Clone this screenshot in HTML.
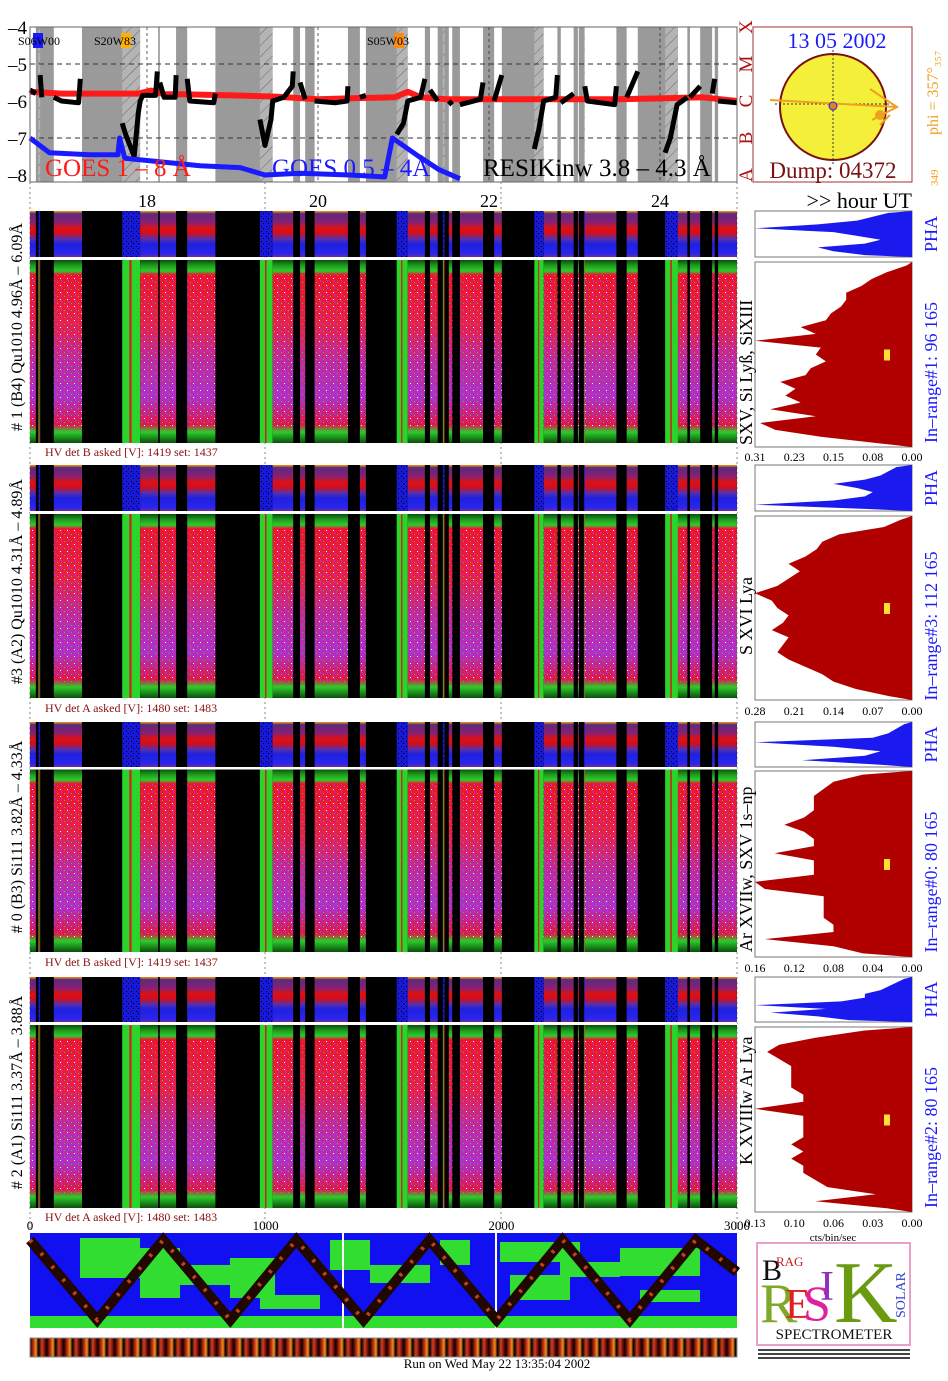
<!DOCTYPE html>
<html><head><meta charset="utf-8">
<style>
html,body{margin:0;padding:0;background:#fff;}
svg{display:block;font-family:"Liberation Serif",serif;}
</style></head>
<body>
<svg id="root" width="948" height="1381" viewBox="0 0 948 1381" xmlns="http://www.w3.org/2000/svg">
<defs>
<linearGradient id="gMain" x1="0" y1="0" x2="0" y2="1">
<stop offset="0" stop-color="#0b4f0b"/><stop offset="0.03" stop-color="#1f9a1f"/><stop offset="0.06" stop-color="#2ccc2c"/>
<stop offset="0.08" stop-color="#ee1430"/><stop offset="0.35" stop-color="#e8204a"/><stop offset="0.55" stop-color="#c02aa0"/>
<stop offset="0.75" stop-color="#b030c8"/><stop offset="0.9" stop-color="#e0184a"/><stop offset="0.94" stop-color="#2ccc2c"/><stop offset="1" stop-color="#0b4f0b"/>
</linearGradient>
<linearGradient id="gPha" x1="0" y1="0" x2="0" y2="1">
<stop offset="0" stop-color="#ff9a00"/><stop offset="0.06" stop-color="#5a2a80"/><stop offset="0.25" stop-color="#8a2070"/>
<stop offset="0.38" stop-color="#e01010"/><stop offset="0.5" stop-color="#c81028"/><stop offset="0.6" stop-color="#5a30a8"/>
<stop offset="0.72" stop-color="#2020e0"/><stop offset="0.92" stop-color="#2626ee"/><stop offset="1" stop-color="#702aa0"/>
</linearGradient>
<pattern id="noise" width="7" height="7" patternUnits="userSpaceOnUse">
<rect x="1" y="2" width="1" height="1" fill="#22dd22"/><rect x="4" y="5" width="1" height="1" fill="#ffffff"/>
<rect x="5" y="0" width="1" height="2" fill="#9040ff"/><rect x="2" y="5" width="1" height="1" fill="#ff2020"/>
</pattern>
<pattern id="dots" width="5" height="5" patternUnits="userSpaceOnUse">
<rect width="5" height="5" fill="#1818d8"/><rect x="1" y="1" width="1" height="1" fill="#000"/><rect x="3" y="3" width="1" height="1" fill="#000"/>
</pattern>
<pattern id="hatch" width="8" height="8" patternUnits="userSpaceOnUse" patternTransform="rotate(45)">
<rect width="8" height="8" fill="#b4b4b4"/><line x1="0" y1="0" x2="0" y2="8" stroke="#555" stroke-width="0.8"/>
</pattern>
<linearGradient id="gStrip" gradientUnits="userSpaceOnUse" x1="30" y1="0" x2="47" y2="0" spreadMethod="repeat">
<stop offset="0" stop-color="#200000"/><stop offset="0.2" stop-color="#c03010"/><stop offset="0.35" stop-color="#f09020"/>
<stop offset="0.5" stop-color="#000"/><stop offset="0.7" stop-color="#d04020"/><stop offset="0.85" stop-color="#801010"/><stop offset="1" stop-color="#000"/>
</linearGradient>
</defs>
<g id="layer"></g>
</svg>
<script>
// ---------- DATA ----------
const segStart=[16.63,16.73,16.91,17.71,17.92,18.15,18.47,19.32,19.47,19.79,19.96,20.49,20.92,21.05,21.31,21.46,21.53,21.66,22.06,22.53,22.64,22.84,23.04,23.11,23.12,23.61,24.06,24.21,24.35,24.61,24.68];
const segEnd  =[16.70,16.75,17.24,17.92,18.13,18.34,18.80,19.47,19.71,19.85,20.35,20.56,21.05,21.25,21.40,21.48,21.57,21.93,22.15,22.64,22.80,22.99,23.05,23.12,23.49,23.74,24.21,24.32,24.47,24.64,24.90];
const segType =['d','g','d','g','d','d','d','g','d','d','d','d','g','d','d','g','d','d','d','g','d','d','d','g','d','d','g','d','d','d','d'];
const hourTicks=[18,20,22,24];
const goesYTicks=[-4,-5,-6,-7,-8];
const goesLongT=[16.63,17.0,17.5,17.9,18.05,18.2,18.4,19.0,19.5,20.0,20.5,20.9,21.05,21.2,21.5,22,22.5,23,23.5,24,24.5,24.9];
const goesLongV=[-5.75,-5.8,-5.8,-5.8,-5.72,-5.82,-5.82,-5.85,-5.88,-5.95,-5.92,-5.9,-5.75,-5.9,-5.95,-5.95,-5.95,-5.95,-5.95,-5.93,-5.9,-6.0];
const goesShortT=[16.63,16.86,17.33,17.66,17.68,17.74,18.62,19.09,19.38,19.79,20.37,20.78,20.87,21.18,21.41,21.66];
const goesShortV=[-7.0,-7.4,-7.45,-7.45,-7.0,-7.55,-7.75,-7.8,-8.0,-7.95,-8.0,-8.05,-7.0,-7.5,-7.85,-8.1];
const resikT=[16.63,16.70,null,16.75,16.77,null,16.91,17.0,17.2,17.22,null,17.71,17.75,17.8,17.85,17.9,17.92,17.95,18.1,18.12,null,18.15,18.2,18.33,18.34,null,18.47,18.5,18.78,18.8,null,19.32,19.38,19.45,19.47,19.6,19.7,19.71,null,19.79,19.85,null,19.96,20.2,20.34,20.35,null,20.49,20.56,null,20.92,21.0,21.05,21.2,21.25,null,21.31,21.4,null,21.53,21.57,null,21.66,21.9,21.93,null,22.06,22.15,null,22.53,22.58,22.64,22.78,22.80,null,22.84,22.99,null,23.12,23.15,23.47,23.49,null,23.61,23.74,null,24.06,24.12,24.2,24.32,null,24.35,24.47,null,24.61,24.64,null,24.68,24.9];
const resikV=[-5.7,-5.8,null,-5.3,-5.9,null,-5.9,-6.0,-6.05,-5.4,null,-6.6,-6.9,-7.2,-7.5,-6.3,-6.0,-5.85,-5.85,-5.2,null,-5.5,-5.9,-5.9,-5.3,null,-5.4,-6.0,-6.05,-5.8,null,-6.5,-7.2,-6.5,-6.0,-5.9,-5.6,-5.2,null,-5.5,-5.95,null,-6.0,-6.05,-6.0,-5.6,null,-5.9,-5.85,null,-6.9,-6.6,-6.0,-5.9,-5.4,null,-5.7,-6.0,null,-6.0,-6.1,null,-6.1,-5.95,-5.5,null,-6.0,-5.3,null,-7.3,-6.8,-6.0,-5.9,-5.3,null,-6.05,-5.8,null,-5.6,-6.0,-6.1,-5.6,null,-5.9,-5.2,null,-7.4,-7.0,-6.1,-5.9,null,-5.9,-5.6,null,-5.8,-5.4,null,-6.0,-6.05];
const histMax=[0.31,0.28,0.16,0.13];
const histTicks1=['0.31','0.23','0.15','0.08','0.00'];
const histTicks2=['0.28','0.21','0.14','0.07','0.00'];
const histTicks3=['0.16','0.12','0.08','0.04','0.00'];
const histTicks4=['0.13','0.10','0.06','0.03','0.00'];
const hist1=[0.01,0.05,0.08,0.10,0.13,0.13,0.14,0.16,0.17,0.22,0.19,0.31,0.18,0.19,0.17,0.20,0.21,0.26,0.23,0.25,0.22,0.28,0.19,0.30,0.27,0.18,0.06];
const hist2=[0.02,0.05,0.13,0.16,0.17,0.19,0.22,0.20,0.22,0.24,0.28,0.25,0.24,0.22,0.23,0.25,0.22,0.23,0.24,0.22,0.19,0.16,0.14,0.10,0.04];
const hist3=[0.05,0.08,0.09,0.10,0.10,0.10,0.11,0.13,0.11,0.10,0.10,0.14,0.10,0.10,0.10,0.16,0.15,0.09,0.09,0.09,0.09,0.08,0.08,0.15,0.08,0.05];
const hist4=[0.04,0.08,0.11,0.12,0.11,0.10,0.10,0.10,0.10,0.09,0.09,0.13,0.09,0.09,0.09,0.09,0.10,0.09,0.10,0.09,0.09,0.08,0.07,0.03,0.08,0.02];
const pha1=[0.15,0.25,0.35,0.6,1.0,0.5,0.35,0.2,0.3,0.6,0.5,0.3];
const pha2=[0.1,0.15,0.2,0.3,0.5,0.35,0.25,0.3,0.5,1.0,0.3];
const pha3=[0.05,0.1,0.15,0.25,1.0,0.5,0.2,0.3,0.7,0.2];
const pha4=[0.05,0.1,0.15,0.2,0.3,0.3,0.45,1.0,0.55,0.9,0.6,0.4];
const chanTicks=[0,1000,2000,3000];
const zigC=[0,285,565,850,1130,1415,1695,1980,2260,2545,2825,3000];
const zigF=[1,0,1,0,1,0,1,0,1,0,1,0.6];

// ---------- HELPERS ----------
const NS='http://www.w3.org/2000/svg';
const L=document.getElementById('layer');
function mk(tag,attrs,parent){const e=document.createElementNS(NS,tag);for(const k in attrs)e.setAttribute(k,attrs[k]);(parent||L).appendChild(e);return e;}
function txt(s,attrs,parent){const e=mk('text',attrs,parent);e.textContent=s;return e;}
const X=h=>147+(h-18)*85.5;
const GY=v=>27+(-4-v)*37;
const X0=30,X1=737;

// ---------- GOES PANEL ----------
const goes=mk('g',{});


mk('rect',{x:X0,y:27,width:X1-X0,height:155,fill:'#9a9a9a'},goes);
for(let i=0;i<segStart.length;i++){
  const r=mk('rect',{x:X(segStart[i]),y:27,width:X(segEnd[i])-X(segStart[i]),height:155,fill:segType[i]==='d'?'#ffffff':'url(#hatch)'},goes);
  
  
}
[-5,-7].forEach(v=>mk('line',{x1:X0,x2:X1,y1:GY(v),y2:GY(v),stroke:'#333','stroke-dasharray':'5,4','stroke-width':1},goes));
hourTicks.forEach(h=>mk('line',{x1:X(h),x2:X(h),y1:27,y2:182,stroke:'#333','stroke-dasharray':'3,3','stroke-width':0.8},goes));
function poly(T,V,col,w,name){
  let d='',pen=false;
  for(let i=0;i<T.length;i++){ if(T[i]===null){pen=false;continue;} d+=(pen?'L':'M')+X(T[i]).toFixed(1)+' '+GY(V[i]).toFixed(1)+' '; pen=true;}
  const p=mk('path',{d:d,fill:'none',stroke:col,'stroke-width':w,'stroke-linejoin':'round'},goes);
  
  
}
poly(goesLongT,goesLongV,'#ff1a1a',6,'goes-long-line');
poly(resikT,resikV,'#000',5,'resik-line');
poly(goesShortT,goesShortV,'#1a1aff',5,'goes-short-line');
mk('rect',{x:X0,y:27,width:X1-X0,height:155,fill:'none',stroke:'#666','stroke-width':1},goes);
goesYTicks.forEach(v=>{const t=txt('–'+Math.abs(v),{x:27,y:GY(v)+7,'font-size':19,'text-anchor':'end',fill:'#000'});});
['X','M','C','B','A'].forEach((c,i)=>{const t=txt(c,{x:0,y:0,'font-size':19,fill:'#b01010',transform:`translate(752,${GY(-4-i)}) rotate(-90)`,'text-anchor':'middle'});});
let t;
t=txt('GOES 1 – 8 Å',{x:45,y:176,'font-size':25,fill:'#ff1a1a'});
t=txt('GOES 0.5 – 4Å',{x:272,y:176,'font-size':25,fill:'#1a1aff'});
t=txt('RESIKinw 3.8 – 4.3 Å',{x:483,y:176,'font-size':25,fill:'#000'});
[[30,'S06W00','#1a1aff'],[118,'S20W83','#ffb000'],[391,'S05W03','#ff8a10']].forEach(a=>{
  mk('rect',{x:a[0]+3,y:33,width:10,height:15,fill:a[2]});
  const tt=txt(a[1],{x:a[0]-12+(a[0]===30?0:-12),y:45,'font-size':12,fill:'#000'});
  
});

// ---------- SUN PANEL ----------
const sun=mk('g',{});


mk('rect',{x:753,y:27,width:159,height:155,fill:'#fff',stroke:'#a03030','stroke-width':1},sun);
mk('circle',{cx:833,cy:107,r:53,fill:'#f4f03a',stroke:'#7a1010','stroke-width':2},sun);
mk('line',{x1:833,x2:833,y1:50,y2:165,stroke:'#333','stroke-dasharray':'2,2'},sun);
mk('line',{x1:775,x2:893,y1:104,y2:104,stroke:'#333','stroke-dasharray':'2,2'},sun);
mk('line',{x1:770,y1:100,x2:897,y2:107,stroke:'#f0a020','stroke-width':2},sun);
mk('path',{d:'M870 89 L897 107 L872 120 M880 125 L890 115',stroke:'#f0a020','stroke-width':2,fill:'none'},sun);
mk('circle',{cx:880,cy:115,r:5,fill:'#f0a020'},sun);
mk('circle',{cx:833,cy:106,r:4,fill:'#e08020',stroke:'#1a1aff'},sun);
t=txt('13 05 2002',{x:837,y:48,'font-size':22,'text-anchor':'middle',fill:'#1a1aff'},sun);
t=txt('Dump: 04372',{x:833,y:178,'font-size':23,'text-anchor':'middle',fill:'#7a1010'},sun);
t=txt('phi = 357°₃₅₇',{x:0,y:0,'font-size':16,fill:'#f0a020',transform:'translate(938,135) rotate(-90)'});
t=txt('349',{x:0,y:0,'font-size':11,fill:'#f0a020',transform:'translate(938,186) rotate(-90)'});

// ---------- HOUR AXIS ----------
hourTicks.forEach(h=>{const tt=txt(String(h),{x:X(h),y:207,'font-size':18,'text-anchor':'middle'});});
[30,265,501,737].forEach(x=>mk('line',{x1:x,x2:x,y1:182,y2:1230,stroke:'#555','stroke-dasharray':'2,3','stroke-width':0.7}));
t=txt('>> hour UT',{x:912,y:208,'font-size':22,'text-anchor':'end'});

// ---------- DETECTOR BLOCKS ----------
const blocks=[
 {pha:211,phaH:46,main:260,mainH:183,hb:447,hv:456,ax:461,hist:hist1,ph:pha1,ticks:histTicks1,max:histMax[0],
  left:'# 1 (B4) Qu1010 4.96Å – 6.09Å',line:'SXV, Si Lyß, SiXIII',lineY:445,range:'In–range#1:  96 165',hvt:'HV det B asked [V]:  1419 set:  1437'},
 {pha:465,phaH:46,main:514,mainH:184,hb:700,hv:712,ax:715,hist:hist2,ph:pha2,ticks:histTicks2,max:histMax[1],
  left:'#3 (A2) Qu1010  4.31Å – 4.89Å',line:'S XVI Lya',lineY:655,range:'In–range#3:  112 165',hvt:'HV det A asked [V]:  1480 set:  1483'},
 {pha:722,phaH:45,main:769,mainH:183,hb:957,hv:966,ax:972,hist:hist3,ph:pha3,ticks:histTicks3,max:histMax[2],
  left:'# 0 (B3) Si111  3.82Å – 4.33Å',line:'Ar XVIIw,  SXV 1s–np',lineY:952,range:'In–range#0:  80 165',hvt:'HV det B asked [V]:  1419 set:  1437'},
 {pha:977,phaH:45,main:1025,mainH:183,hb:1212,hv:1221,ax:1227,hist:hist4,ph:pha4,ticks:histTicks4,max:histMax[3],
  left:'# 2 (A1) Si111  3.37Å – 3.88Å',line:'K XVIIIw  Ar Lya',lineY:1165,range:'In–range#2:  80 165',hvt:'HV det A asked [V]:  1480 set:  1483'}
];
const HX0=755,HX1=912;
blocks.forEach((b,bi)=>{
  const g=mk('g',{});
  
  
  mk('rect',{x:X0,y:b.pha,width:X1-X0,height:b.phaH,fill:'#000'},g);
  mk('rect',{x:X0,y:b.main,width:X1-X0,height:b.mainH,fill:'#000'},g);
  for(let i=0;i<segStart.length;i++){
    const x=X(segStart[i]),w=Math.max(1,X(segEnd[i])-X(segStart[i]));
    const p=mk('rect',{x:x,y:b.pha,width:w,height:b.phaH,fill:segType[i]==='d'?'url(#gPha)':'url(#dots)'},g);
    
    
    if(segType[i]==='d'){
      const r=mk('rect',{x:x,y:b.main,width:w,height:b.mainH,fill:'url(#gMain)'},g);
      
      
      mk('rect',{x:x,y:b.main+b.mainH*0.08,width:w,height:b.mainH*0.84,fill:'url(#noise)'},g);
    } else {
      const r=mk('rect',{x:x,y:b.main,width:w,height:b.mainH,fill:'#2ad42a'},g);
      
      
      mk('rect',{x:x+w*0.4,y:b.main,width:Math.max(1,w*0.12),height:b.mainH,fill:'#d02020'},g);
    }
  }
  const lt=txt(b.left,{x:0,y:0,'font-size':16,'text-anchor':'middle',transform:`translate(22,${(b.pha+b.main+b.mainH)/2}) rotate(-90)`},g);
  
  const hv=txt(b.hvt,{x:45,y:b.hv,'font-size':12,fill:'#8a1010'},g);
  
  mk('rect',{x:HX0,y:b.pha,width:HX1-HX0,height:b.phaH,fill:'#fff',stroke:'#777'},g);
  let d=`M${HX1} ${b.pha}`;
  b.ph.forEach((v,i)=>{const y=b.pha+(i+0.5)*b.phaH/b.ph.length;d+=` L${HX1-v*(HX1-HX0)} ${y}`;});
  d+=` L${HX1} ${b.pha+b.phaH} Z`;
  const ph=mk('path',{d:d,fill:'#1a1aee'},g);
  
  const pt=txt('PHA',{x:0,y:0,'font-size':18,fill:'#1a1aff','text-anchor':'middle',transform:`translate(937,${b.pha+b.phaH/2}) rotate(-90)`},g);
  
  const top=b.main+2,hh=b.hb-top;
  mk('rect',{x:HX0,y:top,width:HX1-HX0,height:hh,fill:'#fff',stroke:'#777'},g);
  d=`M${HX1} ${top}`;
  b.hist.forEach((v,i)=>{const y=top+(i+0.5)*hh/b.hist.length;d+=` L${(HX1-v/b.max*(HX1-HX0)).toFixed(1)} ${y.toFixed(1)}`;});
  d+=` L${HX1} ${b.hb} Z`;
  const hp=mk('path',{d:d,fill:'#b00000'},g);
  
  mk('rect',{x:884,y:top+hh/2-5,width:6,height:11,fill:'#ffe030'},g);
  b.ticks.forEach((s,i)=>{const tt=txt(s,{x:HX0+i*(HX1-HX0)/4,y:b.ax,'font-size':12,'text-anchor':'middle'},g);});
  const ln=txt(b.line,{x:0,y:0,'font-size':18,fill:'#000',transform:`translate(752,${b.lineY}) rotate(-90)`},g);
  
  const rg=txt(b.range,{x:0,y:0,'font-size':18,fill:'#1a1aff','text-anchor':'middle',transform:`translate(937,${top+hh/2+18}) rotate(-90)`},g);
  
  mk('line',{x1:X0,x2:X1,y1:b.pha+b.phaH+1.5,y2:b.pha+b.phaH+1.5,stroke:'#fff','stroke-width':2},g);
});
t=txt('cts/bin/sec',{x:833,y:1241,'font-size':11,'text-anchor':'middle'});

// ---------- BOTTOM SCAN PANEL ----------
const CX=c=>30+c*(X1-X0)/3000;
const ZY=f=>1320-f*80;
chanTicks.forEach(c=>{const tt=txt(String(c),{x:CX(c),y:1230,'font-size':13,'text-anchor':'middle'});});
const sc=mk('g',{});


mk('rect',{x:X0,y:1233,width:X1-X0,height:95,fill:'#1010f0'},sc);
[[30,1316,707,12],[80,1238,60,40],[140,1248,40,50],[170,1265,70,20],[230,1258,45,40],[330,1240,40,30],[370,1265,60,18],[440,1240,30,25],[500,1242,80,20],[510,1275,60,25],[560,1262,60,15],[620,1248,80,28],[640,1290,60,12],[260,1295,60,14]].forEach(a=>mk('rect',{x:a[0],y:a[1],width:a[2],height:a[3],fill:'#30dd30'},sc));
mk('rect',{x:342,y:1233,width:2,height:95,fill:'#fff'},sc);
mk('rect',{x:495,y:1233,width:2,height:95,fill:'#fff'},sc);
let zd='';zigC.forEach((c,i)=>{zd+=(i?'L':'M')+CX(c).toFixed(1)+' '+ZY(zigF[i]).toFixed(1)+' ';});
const zz=mk('path',{d:zd,fill:'none',stroke:'#200800','stroke-width':10,'stroke-linejoin':'miter'},sc);

mk('path',{d:zd,fill:'none',stroke:'#c04020','stroke-width':4,'stroke-dasharray':'3,14'},sc);
const st=mk('rect',{x:X0,y:1338,width:X1-X0,height:19,fill:'url(#gStrip)'});

mk('rect',{x:X0,y:1338,width:X1-X0,height:19,fill:'none',stroke:'#888'});
t=txt('Run on Wed May 22 13:35:04 2002',{x:497,y:1368,'font-size':13,'text-anchor':'middle'});

// ---------- LOGO ----------
const lg=mk('g',{});


mk('rect',{x:757,y:1243,width:153,height:102,fill:'#fff',stroke:'#e8a0c8','stroke-width':2},lg);
txt('B',{x:762,y:1280,'font-size':30,fill:'#111'},lg);
txt('RAG',{x:776,y:1266,'font-size':13,fill:'#c02020'},lg);
txt('R',{x:760,y:1322,'font-size':56,fill:'#80a828'},lg);
txt('E',{x:785,y:1318,'font-size':42,fill:'#e02020'},lg);
txt('S',{x:803,y:1320,'font-size':50,fill:'#e020a0'},lg);
txt('I',{x:820,y:1300,'font-size':42,fill:'#9030c0'},lg);
txt('K',{x:834,y:1322,'font-size':88,fill:'#6a9a10'},lg);
txt('SOLAR',{x:0,y:0,'font-size':14,fill:'#3040d0',transform:'translate(905,1318) rotate(-90)'},lg);
txt('SPECTROMETER',{x:834,y:1339,'font-size':15,'text-anchor':'middle',fill:'#111'},lg);
[1349,1353,1357].forEach(y=>mk('rect',{x:758,y:y,width:152,height:2,fill:'#444'},lg));
</script>
</body></html>
